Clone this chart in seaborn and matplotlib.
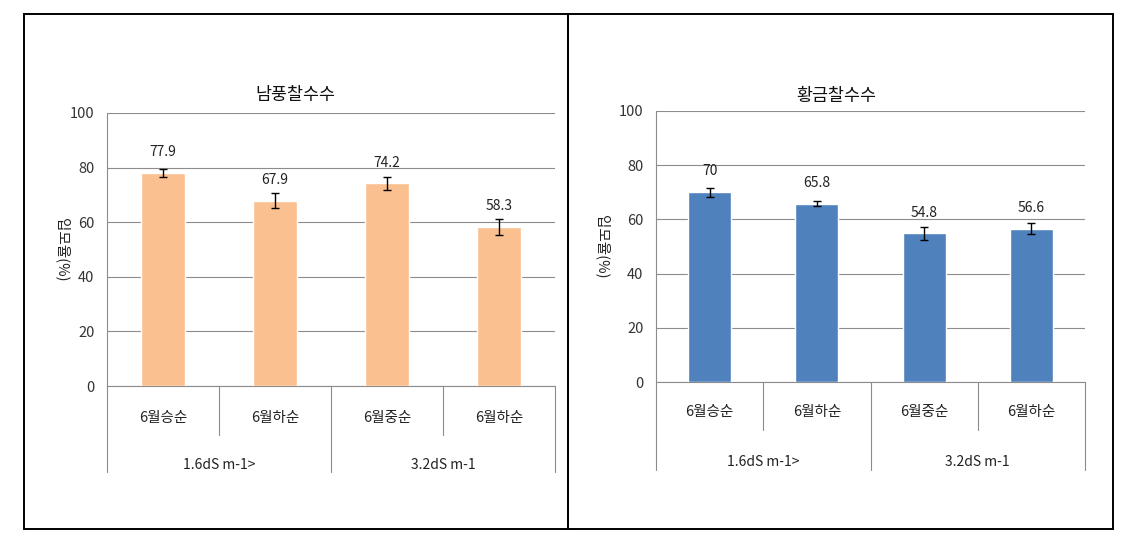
import matplotlib
matplotlib.use("Agg")
import matplotlib.pyplot as plt
import matplotlib.transforms as mtransforms
from matplotlib.patches import Rectangle
import seaborn as sns
import pandas as pd

sns.set_theme(style="white")
plt.rcParams['font.family'] = ['Noto Sans CJK KR', 'DejaVu Sans']

# ---- data ----
timing = ["6월승순", "6월하순", "6월중순", "6월하순"]
groups = ["1.6dS m-1>", "3.2dS m-1"]
group_of_bar = [0, 0, 1, 1]

title_left = "남풍찰수수"
vals_left = [77.9, 67.9, 74.2, 58.3]
errs_left = [1.5, 2.8, 2.5, 3.0]
labels_left = ["77.9", "67.9", "74.2", "58.3"]

title_right = "황금찰수수"
vals_right = [70.0, 65.8, 54.8, 56.6]
errs_right = [1.6, 1.0, 2.5, 2.0]
labels_right = ["70", "65.8", "54.8", "56.6"]

ylabel = "입모율(%)"
yticks = [0, 20, 40, 60, 80, 100]

fig = plt.figure(figsize=(11.39, 5.44), dpi=100)
W, H = 1139, 544

def fx(px):
    return px / W

def fy(py):
    return 1 - py / H

# panel borders
for x0, x1 in [(24, 568), (568, 1113)]:
    fig.patches.append(Rectangle((fx(x0), fy(529)), fx(x1) - fx(x0), fy(14) - fy(529),
                                 transform=fig.transFigure, fill=False,
                                 edgecolor='black', linewidth=1.4, zorder=0))

def panel(rect, title, title_xy, vals, errs, labels, color, short_len, long_len,
          cat_y, grp_y, ylab_x):
    ax = fig.add_axes(rect)
    keys = [f"{g}_{i}" for i, g in enumerate(group_of_bar)]
    df = pd.DataFrame({"key": keys, "val": vals})
    sns.barplot(data=df, x="key", y="val", order=keys, color=color,
                saturation=1, width=0.4, errorbar=None, ax=ax, zorder=3)
    ax.errorbar(x=list(range(len(vals))), y=vals, yerr=errs, fmt='none',
                ecolor='black', elinewidth=1, capsize=3, capthick=1, zorder=4)
    ax.bar_label(ax.containers[0], labels=labels, padding=10, fontsize=10,
                 color='#222222')
    ax.set_ylim(0, 100)
    ax.set_xlim(-0.5, len(vals) - 0.5)
    ax.set_yticks(yticks)
    ax.set_yticklabels([str(t) for t in yticks], fontsize=10.5, color='#333333')
    ax.yaxis.grid(True, color='#8c8c8c', linewidth=0.8, zorder=0)
    ax.set_axisbelow(True)
    for s in ['top', 'right']:
        ax.spines[s].set_visible(False)
    for s in ['left', 'bottom']:
        ax.spines[s].set_color('#8c8c8c')
        ax.spines[s].set_linewidth(0.8)
    ax.tick_params(axis='y', length=5, color='#8c8c8c', direction='out', pad=4)
    ax.set_xticks([])
    ax.set_xlabel("")
    ax.set_ylabel("")
    fig.text(fx(title_xy[0]), fy(title_xy[1]), title, ha='center', va='center',
             fontsize=12.5, color='#111111')

    trans = mtransforms.blended_transform_factory(ax.transData, ax.transAxes)
    n = len(vals)
    # category labels
    for i, t in enumerate(timing):
        ax.text(i, cat_y, t, transform=trans, ha='center', va='center',
                fontsize=10.5, color='#222222')
    # group labels
    for gi, g in enumerate(groups):
        idx = [i for i, gg in enumerate(group_of_bar) if gg == gi]
        ax.text(sum(idx) / len(idx), grp_y, g, transform=trans, ha='center',
                va='center', fontsize=10, color='#222222')
    # separators
    for b in range(n + 1):
        xb = b - 0.5
        if b == 0 or b == n or group_of_bar[b - 1] != group_of_bar[b]:
            yl = long_len
        else:
            yl = short_len
        ax.plot([xb, xb], [0, yl], transform=trans, color='#8c8c8c',
                linewidth=0.8, clip_on=False)
    ax.text(ylab_x, 0.5, ylabel, transform=ax.transAxes, rotation=270,
            ha='center', va='center', fontsize=10.5, color='#222222')
    return ax

axL = panel([fx(107), fy(386), fx(555) - fx(107), fy(113) - fy(386)],
            title_left, (295, 95), vals_left, errs_left, labels_left, '#FAC090',
            -0.18, -0.315, -0.117, -0.29, -0.10)
axR = panel([fx(656), fy(382), fx(1085) - fx(656), fy(111) - fy(382)],
            title_right, (836, 96), vals_right, errs_right, labels_right, '#4F81BD',
            -0.177, -0.325, -0.111, -0.295, -0.125)

fig.savefig("out.png", dpi=100)
